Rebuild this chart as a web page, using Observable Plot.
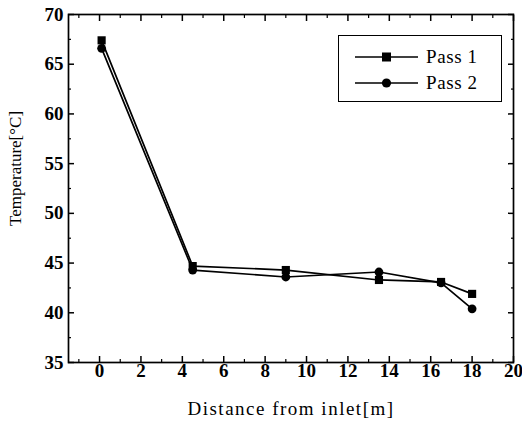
<!DOCTYPE html>
<html><head><meta charset="utf-8">
<script src="https://cdn.jsdelivr.net/npm/d3@7"></script>
<script src="https://cdn.jsdelivr.net/npm/@observablehq/plot@0.6"></script>
<style>
body{margin:0;background:#fff}
#wrap{position:relative;width:522px;height:422px}
#legend{position:absolute;left:338px;top:35px;width:164px;height:67px;border:1.5px solid #000;box-sizing:border-box;background:#fff;font-family:"Liberation Serif",serif;font-size:19px;letter-spacing:0.6px}
.row{position:absolute;left:0;height:20px;display:flex;align-items:center}
.row svg{display:block}
.row span{margin-left:8px}
</style></head><body><div id="wrap"><div id="legend"></div></div>
<script>
const distance = [0.1, 4.5, 9.0, 13.5, 16.5, 18.0];
const pass1 = [67.4, 44.7, 44.3, 43.3, 43.1, 41.9];
const pass2 = [66.6, 44.3, 43.6, 44.1, 43.0, 40.4];
const seriesNames = ["Pass 1", "Pass 2"];
const seriesSymbols = ["square", "circle"];
const xTicks = [0, 2, 4, 6, 8, 10, 12, 14, 16, 18, 20];
const xMinor = [-1, 1, 3, 5, 7, 9, 11, 13, 15, 17, 19];
const yTicks = [35, 40, 45, 50, 55, 60, 65, 70];
const yMinor = [37.5, 42.5, 47.5, 52.5, 57.5, 62.5, 67.5];
const xLabel = "Distance from inlet[m]";
const yLabel = "Temperature[°C]";

const rows = [];
[pass1, pass2].forEach((vals, i) => {
  distance.forEach((d, j) => rows.push({series: seriesNames[i], x: d, y: vals[j]}));
});

const font = "Liberation Serif";
const noText = {text: null, tickFormat: () => "", label: null};
const chart = Plot.plot({
  width: 522, height: 422,
  marginLeft: 68, marginRight: 9, marginTop: 14, marginBottom: 60,
  x: {domain: [-1.5, 20]},
  y: {domain: [35, 70]},
  style: {fontFamily: font, background: "white", color: "black"},
  marks: [
    Plot.frame({stroke: "black", strokeWidth: 1.7}),
    Plot.axisX({ticks: xTicks, tickSize: -6, ...noText, strokeWidth: 1.5}),
    Plot.axisX({ticks: xMinor, tickSize: -3, ...noText, strokeWidth: 1.2}),
    Plot.axisX({anchor: "top", ticks: xTicks, tickSize: -6, ...noText, strokeWidth: 1.5}),
    Plot.axisX({anchor: "top", ticks: xMinor, tickSize: -3, ...noText, strokeWidth: 1.2}),
    Plot.axisY({ticks: yTicks, tickSize: -6, ...noText, strokeWidth: 1.5}),
    Plot.axisY({ticks: yMinor, tickSize: -3, ...noText, strokeWidth: 1.2}),
    Plot.axisY({anchor: "right", ticks: yTicks, tickSize: -6, ...noText, strokeWidth: 1.5}),
    Plot.axisY({anchor: "right", ticks: yMinor, tickSize: -3, ...noText, strokeWidth: 1.2}),
    Plot.text(xTicks, {x: d => d, frameAnchor: "bottom", dy: 14, text: d => String(d), fontSize: 19, fontWeight: "bold", fontFamily: font, fill: "black"}),
    Plot.text(yTicks, {y: d => d, frameAnchor: "left", dx: -5, textAnchor: "end", text: d => String(d), fontSize: 19, fontWeight: "bold", fontFamily: font, fill: "black"}),
    Plot.line(rows, {x: "x", y: "y", z: "series", stroke: "black", strokeWidth: 1.7}),
    Plot.dot(rows.filter(d => d.series === "Pass 1"), {x: "x", y: "y", symbol: "square", r: 4.6, fill: "black"}),
    Plot.dot(rows.filter(d => d.series === "Pass 2"), {x: "x", y: "y", symbol: "circle", r: 4.4, fill: "black"}),
    Plot.text([xLabel], {frameAnchor: "bottom", dy: 46, fontSize: 19, fill: "black", lineAnchor: "middle"}),
    Plot.text([yLabel], {frameAnchor: "left", textAnchor: "middle", dx: -53, dy: -20, rotate: -90, fontSize: 17, fill: "black"})
  ]
});
document.getElementById("wrap").prepend(chart);
d3.select(chart).selectAll("text").filter(function(){return this.textContent === xLabel;}).style("letter-spacing", "1.5px");

const legend = document.getElementById("legend");
seriesNames.forEach((name, i) => {
  const row = document.createElement("div");
  row.className = "row";
  row.style.top = (11 + i * 26) + "px";
  row.style.left = "16px";
  const sym = seriesSymbols[i] === "square"
    ? '<rect x="27" y="5.5" width="9" height="9" fill="black"/>'
    : '<circle cx="31.5" cy="10" r="4.6" fill="black"/>';
  row.innerHTML = '<svg width="63" height="20"><line x1="0" x2="63" y1="10" y2="10" stroke="black" stroke-width="1.6"/>' + sym + '</svg><span>' + name + '</span>';
  legend.appendChild(row);
});
</script>
</body></html>
